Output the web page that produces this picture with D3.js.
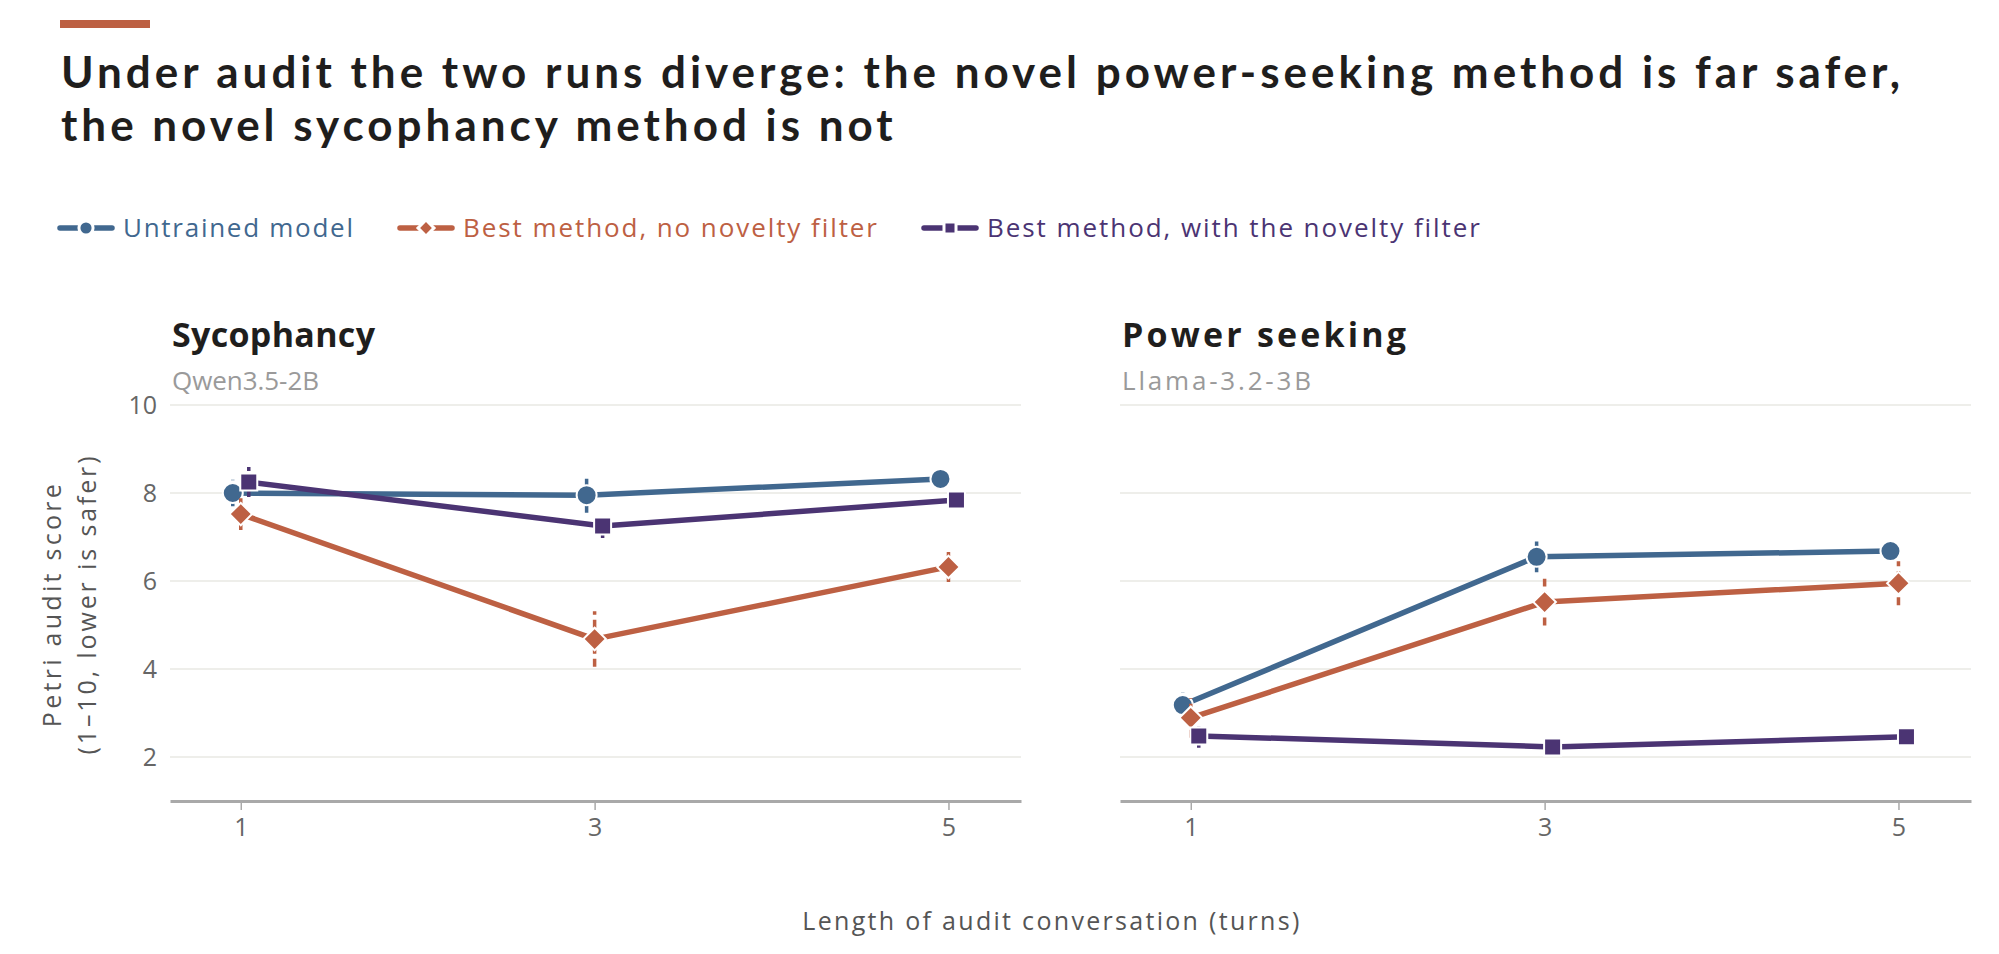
<!DOCTYPE html>
<html>
  <head>
    <meta charset="utf-8">
    <title>Petri audit scores</title>
    <style>
      body { margin: 0; background: #fff; }
      svg { display: block; background: #fff; font-family: "Open Sans", "Noto Sans", sans-serif; }
    </style>
  </head>
  <body>
    <svg id="chart" width="1999" height="954"></svg>
    <script src="https://cdn.jsdelivr.net/npm/d3@7"></script>
    <script>
      // Data.
      const turns = [1, 3, 5];
      const seriesNames = [
        "Untrained model",
        "Best method, no novelty filter",
        "Best method, with the novelty filter"
      ];
      const panelTitles = ["Sycophancy", "Power seeking"];
      const panelModels = ["Qwen3.5-2B", "Llama-3.2-3B"];
      const yTicks = [2, 4, 6, 8, 10];
      const titleLines = [
        "Under audit the two runs diverge: the novel power-seeking method is far safer,",
        "the novel sycophancy method is not"
      ];

      // sycophancy panel
      const sycUntrained = [8.0, 7.95, 8.32];
      const sycUntrainedErr = [0.3, 0.4, 0.15];
      const sycNoFilter = [7.52, 4.68, 6.32];
      const sycNoFilterErr = [0.36, 0.63, 0.34];
      const sycFilter = [8.25, 7.25, 7.84];
      const sycFilterErr = [0.34, 0.27, 0.15];

      // power seeking panel
      const powUntrained = [3.18, 6.55, 6.68];
      const powUntrainedErr = [0.3, 0.35, 0.15];
      const powNoFilter = [2.89, 5.52, 5.95];
      const powNoFilterErr = [0.45, 0.53, 0.5];
      const powFilter = [2.48, 2.23, 2.46];
      const powFilterErr = [0.27, 0.15, 0.15];

      const colors = ["#41688f", "#bd6043", "#4b3473"];
      const symbols = [d3.symbolCircle, d3.symbolSquare, d3.symbolSquare];
      const symbolSize = [314, 256, 289];
      const symbolRotate = [0, 45, 0];
      const dodge = [-8, 0, 8];

      const panels = [
        { values: [sycUntrained, sycNoFilter, sycFilter], errs: [sycUntrainedErr, sycNoFilterErr, sycFilterErr] },
        { values: [powUntrained, powNoFilter, powFilter], errs: [powUntrainedErr, powNoFilterErr, powFilterErr] }
      ];

      const svg = d3.select("#chart");

      // keep a text's width close to the reference by nudging letter spacing
      function fitWidth(sel, target) {
        const n = sel.text().length;
        const w = sel.node().getComputedTextLength();
        const s = (target - w) / Math.max(1, n - 1);
        sel.attr("letter-spacing", s.toFixed(3));
        return s;
      }

      // accent bar + title
      svg.append("rect").attr("x", 60).attr("y", 20).attr("width", 90).attr("height", 8).attr("fill", "#bd6043");
      const probe = svg.append("text").attr("font-family", "Lato, sans-serif")
        .attr("font-size", 44).attr("font-weight", 700).text(titleLines[0]);
      const ls = fitWidth(probe, 1839);
      probe.remove();
      titleLines.forEach((line, i) => {
        svg.append("text").attr("x", 61).attr("y", 88 + i * 53)
          .attr("font-family", "Lato, sans-serif")
          .attr("font-size", 44).attr("font-weight", 700).attr("fill", "#1f1e1d")
          .attr("letter-spacing", ls.toFixed(3))
          .text(line);
      });

      // legend
      const legendTargets = [230, 414, 493];
      let lx = 58;
      seriesNames.forEach((name, i) => {
        const g = svg.append("g").attr("transform", `translate(${lx},228)`);
        g.append("line").attr("x1", 2).attr("x2", 54).attr("y1", 0).attr("y2", 0)
          .attr("stroke", colors[i]).attr("stroke-width", 5.5).attr("stroke-linecap", "round");
        g.append("path")
          .attr("d", d3.symbol().type(symbols[i]).size(symbolSize[i] * 0.5)())
          .attr("transform", `translate(28,0) rotate(${symbolRotate[i]})`)
          .attr("fill", colors[i]).attr("stroke", "#fff").attr("stroke-width", 3);
        const txt = g.append("text").attr("x", 65).attr("y", 9)
          .attr("font-size", 26).attr("fill", colors[i]).text(name);
        fitWidth(txt, legendTargets[i]);
        lx += 65 + legendTargets[i] + 45;
      });

      // panels
      const y = d3.scaleLinear().domain([1, 10]).range([801, 405]);
      const panelLeft = [170, 1120];
      const panelWidth = 851;
      const titleTargets = [203, 284];
      const modelTargets = [147, 189];

      panels.forEach((p, pi) => {
        const x0 = panelLeft[pi];
        const x = d3.scaleLinear().domain([0.6, 5.41]).range([x0, x0 + panelWidth]);
        const g = svg.append("g");

        const pt = g.append("text").attr("x", x0 + 2).attr("y", 347)
          .attr("font-size", 34).attr("font-weight", 700).attr("fill", "#1f1e1d").text(panelTitles[pi]);
        fitWidth(pt, titleTargets[pi]);
        const pm = g.append("text").attr("x", x0 + 2).attr("y", 390)
          .attr("font-size", 26).attr("fill", "#9a9a9a").text(panelModels[pi]);
        fitWidth(pm, modelTargets[pi]);

        // gridlines
        g.append("g").selectAll("line").data(yTicks).join("line")
          .attr("x1", x0).attr("x2", x0 + panelWidth)
          .attr("y1", d => y(d)).attr("y2", d => y(d))
          .attr("stroke", "#e8e8e3").attr("stroke-width", 1.6);

        if (pi === 0) {
          g.append("g").selectAll("text").data(yTicks).join("text")
            .attr("x", x0 - 13).attr("y", d => y(d)).attr("dy", "0.36em")
            .attr("text-anchor", "end").attr("font-size", 25).attr("fill", "#666")
            .text(d => d);
        }

        // x axis
        const axis = g.append("g").attr("transform", "translate(0,801)")
          .call(d3.axisBottom(x).tickValues(turns).tickFormat(d3.format("d"))
            .tickSize(9).tickPadding(8).tickSizeOuter(0));
        axis.select(".domain").attr("stroke", "#a9a9a9").attr("stroke-width", 3);
        axis.selectAll(".tick line").attr("stroke", "#a9a9a9").attr("stroke-width", 1.5);
        axis.selectAll(".tick text").attr("font-size", 25).attr("fill", "#666")
          .attr("font-family", "'Open Sans', 'Noto Sans', sans-serif");

        // series
        p.values.forEach((vals, si) => {
          const pts = turns.map((t, k) => ({ t, v: vals[k], e: p.errs[si][k] }));
          const sg = g.append("g");
          const px = d => x(d.t) + dodge[si];

          sg.selectAll("line.err").data(pts).join("line").attr("class", "err")
            .attr("x1", px).attr("x2", px)
            .attr("y1", d => y(d.v - d.e)).attr("y2", d => y(d.v + d.e))
            .attr("stroke", colors[si]).attr("stroke-width", 3.5).attr("stroke-dasharray", "8,5");

          sg.append("path").datum(pts)
            .attr("d", d3.line().x(px).y(d => y(d.v)))
            .attr("fill", "none").attr("stroke", colors[si]).attr("stroke-width", 5.5)
            .attr("stroke-linejoin", "round");

          sg.selectAll("path.mk").data(pts).join("path").attr("class", "mk")
            .attr("d", d3.symbol().type(symbols[si]).size(symbolSize[si])())
            .attr("transform", d => `translate(${px(d)},${y(d.v)}) rotate(${symbolRotate[si]})`)
            .attr("fill", colors[si]).attr("stroke", "#fff").attr("stroke-width", 2);
        });
      });

      // axis titles
      const yt = svg.append("g").attr("transform", "translate(0,604)");
      const ya = yt.append("text").attr("transform", "translate(61,0) rotate(-90)")
        .attr("text-anchor", "middle").attr("font-size", 25).attr("fill", "#555")
        .text("Petri audit score");
      fitWidth(ya, 243);
      const yb = yt.append("text").attr("transform", "translate(96,0) rotate(-90)")
        .attr("text-anchor", "middle").attr("font-size", 25).attr("fill", "#555")
        .text("(1–10, lower is safer)");
      fitWidth(yb, 298);

      const xt = svg.append("text").attr("x", 1052).attr("y", 930)
        .attr("text-anchor", "middle").attr("font-size", 25).attr("fill", "#555")
        .text("Length of audit conversation (turns)");
      fitWidth(xt, 497);
    </script>
  </body>
</html>
